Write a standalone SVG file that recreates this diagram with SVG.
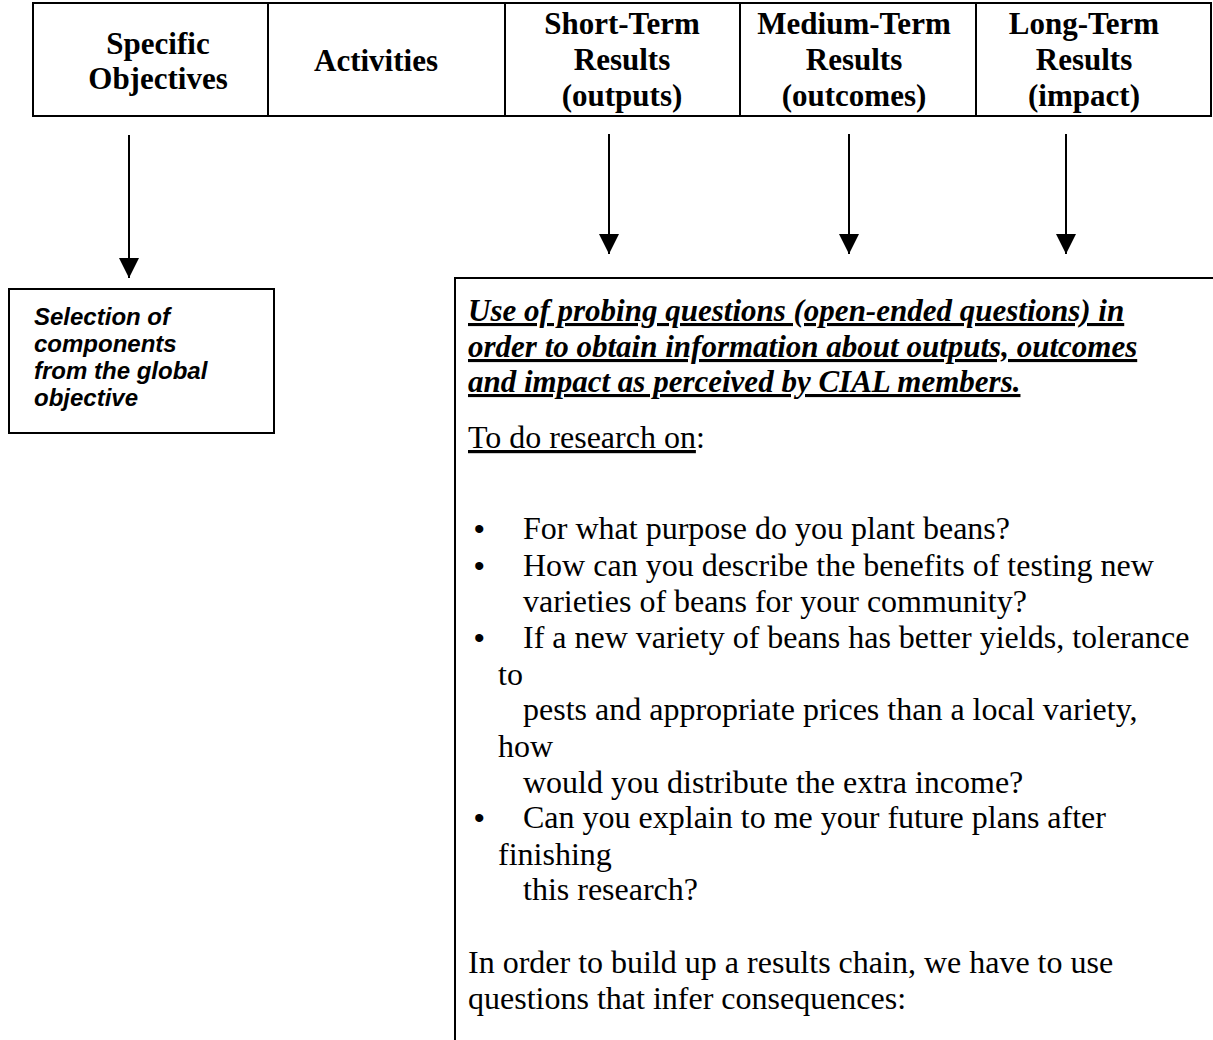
<svg xmlns="http://www.w3.org/2000/svg" width="1213" height="1040" viewBox="0 0 1213 1040">
  <defs>
    <style>
      .hdr { font-family: "Liberation Serif", "Times New Roman", serif; font-weight: bold; font-size: 31px; fill: #000; text-anchor: middle; }
      .box { fill: #fff; stroke: #000; stroke-width: 2; }
      .sel { font-family: "Liberation Sans", Arial, sans-serif; font-weight: bold; font-style: italic; font-size: 24px; fill: #000; }
      .ttl { font-family: "Liberation Serif", "Times New Roman", serif; font-weight: bold; font-style: italic; font-size: 31px; fill: #000; text-decoration: underline; }
      .body { font-family: "Liberation Serif", "Times New Roman", serif; font-size: 32px; fill: #000; }
      .bul { font-family: "Liberation Sans", Arial, sans-serif; font-size: 30px; }
      .conn { stroke: #000; stroke-width: 2; fill: none; }
    </style>
    <marker id="ah" viewBox="0 0 20 20" refX="20" refY="10" markerWidth="20" markerHeight="20" markerUnits="userSpaceOnUse" orient="auto">
      <path d="M0,0 L20,10 L0,20 Z" fill="#000"/>
    </marker>
  </defs>
  <rect width="1213" height="1040" fill="#fff"/>

  <g id="header-table">
    <rect class="box" x="33" y="3" width="1178" height="113" stroke-width="3"/>
    <line x1="268" y1="3" x2="268" y2="116" stroke="#000" stroke-width="2"/>
    <line x1="505" y1="3" x2="505" y2="116" stroke="#000" stroke-width="2"/>
    <line x1="740" y1="3" x2="740" y2="116" stroke="#000" stroke-width="2"/>
    <line x1="976" y1="3" x2="976" y2="116" stroke="#000" stroke-width="2"/>
  </g>
  <g id="specific-objectives">
    <text class="hdr"><tspan x="158" y="54">Specific</tspan><tspan x="158" y="89">Objectives</tspan></text>
  </g>
  <g id="activities">
    <text class="hdr" x="376" y="71">Activities</text>
  </g>
  <g id="short-term">
    <text class="hdr"><tspan x="622" y="34">Short-Term</tspan><tspan x="622" y="70">Results</tspan><tspan x="622" y="106">(outputs)</tspan></text>
  </g>
  <g id="medium-term">
    <text class="hdr"><tspan x="854" y="34">Medium-Term</tspan><tspan x="854" y="70">Results</tspan><tspan x="854" y="106">(outcomes)</tspan></text>
  </g>
  <g id="long-term">
    <text class="hdr"><tspan x="1084" y="34">Long-Term</tspan><tspan x="1084" y="70">Results</tspan><tspan x="1084" y="106">(impact)</tspan></text>
  </g>

  <g id="connectors">
    <line class="conn" x1="129" y1="135" x2="129" y2="278" marker-end="url(#ah)"/>
    <line class="conn" x1="609" y1="134" x2="609" y2="254" marker-end="url(#ah)"/>
    <line class="conn" x1="849" y1="134" x2="849" y2="254" marker-end="url(#ah)"/>
    <line class="conn" x1="1066" y1="134" x2="1066" y2="254" marker-end="url(#ah)"/>
  </g>

  <g id="selection-box">
    <rect class="box" x="9" y="289" width="265" height="144"/>
    <text class="sel"><tspan x="34" y="325">Selection of</tspan><tspan x="34" y="352">components</tspan><tspan x="34" y="379">from the global</tspan><tspan x="34" y="406">objective</tspan></text>
  </g>

  <g id="probing-box">
    <rect class="box" x="455" y="278" width="780" height="800"/>
    <text class="ttl"><tspan x="468" y="321">Use of probing questions (open-ended questions) in</tspan><tspan x="468" y="357">order to obtain information about outputs, outcomes</tspan><tspan x="468" y="392">and impact as perceived by CIAL members.</tspan></text>
    <text class="body" x="468" y="448"><tspan text-decoration="underline">To do research on</tspan>:</text>
    <text class="body"><tspan class="bul" x="474" y="539">•</tspan><tspan x="523" y="539">For what purpose do you plant beans?</tspan></text>
    <text class="body"><tspan class="bul" x="474" y="576">•</tspan><tspan x="523" y="576">How can you describe the benefits of testing new</tspan><tspan x="523" y="612">varieties of beans for your community?</tspan></text>
    <text class="body"><tspan class="bul" x="474" y="648">•</tspan><tspan x="523" y="648">If a new variety of beans has better yields, tolerance</tspan><tspan x="498" y="685">to</tspan><tspan x="523" y="720">pests and appropriate prices than a local variety,</tspan><tspan x="498" y="757">how</tspan><tspan x="523" y="793">would you distribute the extra income?</tspan></text>
    <text class="body"><tspan class="bul" x="474" y="828">•</tspan><tspan x="523" y="828">Can you explain to me your future plans after</tspan><tspan x="498" y="865">finishing</tspan><tspan x="523" y="900">this research?</tspan></text>
    <text class="body"><tspan x="468" y="973">In order to build up a results chain, we have to use</tspan><tspan x="468" y="1009">questions that infer consequences:</tspan></text>
  </g>
</svg>
